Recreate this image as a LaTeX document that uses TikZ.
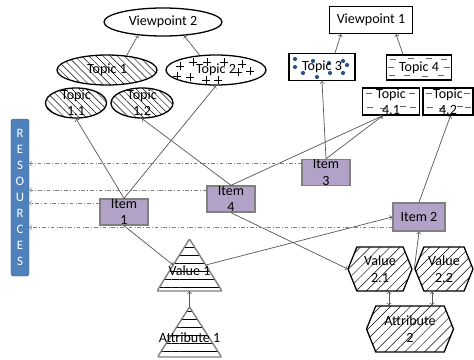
\documentclass[tikz,border=0pt]{standalone}
\usepackage{fontspec}
\setmainfont{Carlito}
\usetikzlibrary{shapes.geometric,shapes.symbols,patterns.meta,calc}

\definecolor{itemfill}{RGB}{179,162,199}
\definecolor{itemline}{RGB}{128,128,128}
\definecolor{resfill}{RGB}{79,129,189}
\definecolor{resline}{RGB}{56,93,138}
\definecolor{dotblue}{RGB}{46,84,140}
\definecolor{linkgray}{RGB}{85,85,85}

\tikzset{
  every node/.style={font=\fontsize{12}{14}\selectfont, align=center, inner sep=0pt},
  vpell/.style={ellipse, draw, line width=1.1pt, minimum width=3.54cm, minimum height=0.84cm},
  vpbox/.style={rectangle, draw, line width=1.1pt},
  topell/.style={ellipse, draw, line width=1.1pt, minimum height=0.9cm},
  topbox/.style={rectangle, draw, line width=1.1pt},
  hatch/.style={pattern={Lines[angle=-45,distance=4.3pt,line width=0.4pt]}},
  pluses/.style={path picture={
    \foreach \px/\py in {-36/-4,-23/-8,-9/-8,8/-8,-39/6,-26/7,-10/10,2/10,22/2,26/-6,34/1}
      \draw[line width=0.5pt] ([shift={(\px-4,\py)}]path picture bounding box.center) -- ++(8,0)
        ([shift={(\px,\py-4)}]path picture bounding box.center) -- ++(0,8);
  }},
  dots/.style={path picture={
    \foreach \px/\py in {-27/-8,-27/0,-19/6,-9/-6,-5/10,7/-4,8/6,21/-6,25/-2,21/6}
      \fill[dotblue] ([shift={(\px,\py)}]path picture bounding box.center) circle (1.8pt);
  }},
  dashmarks/.style={path picture={
    \foreach \px/\py in {#1}
      \draw[gray!80!black, line width=0.5pt] ([shift={(\px-3,\py)}]path picture bounding box.center) -- ++(6,0);
  }},
  item/.style={rectangle, draw=itemline, line width=1.2pt, fill=itemfill, minimum width=1.44cm, minimum height=0.78cm, inner ysep=-2pt},
  res/.style={rectangle, rounded corners=2pt, fill=resfill, draw=resline, text=white, minimum width=0.54cm, minimum height=4.71cm, font=\fontsize{11}{13.6}\selectfont},
  tri/.style={text height=20pt, text depth=2pt, path picture={
    \draw[gray, line width=1.2pt, pattern={Lines[angle=0,distance=6.8pt,line width=0.6pt]}]
      (path picture bounding box.north) -- (path picture bounding box.south east)
      -- (path picture bounding box.south west) -- cycle;
  }},
  hexa/.style={signal, signal to=west and east, signal pointer angle=136, draw, line width=1.1pt,
    pattern={Lines[angle=45,distance=6pt,line width=0.4pt]}},
  link/.style={->, draw=linkgray, line width=0.6pt},
  resarrow/.style={->, draw=gray, dash dot, line width=0.6pt},
}

\begin{document}
\begin{tikzpicture}[x=0.03cm, y=-0.03cm]
  \useasboundingbox (0,0) rectangle (474,359);

  % viewpoint 2 and its topics
  \node[vpell] (vp2) at (163,22) {Viewpoint 2};
  \node[topell, hatch, minimum width=3cm] (t1) at (107,70) {Topic 1};
  \node[topell, pluses, minimum width=3cm] (t2) at (216,70) {Topic 2};
  \node[topell, hatch, minimum width=1.83cm, inner ysep=-5pt] (t11) at (76,103) {Topic\\1.1};
  \node[topell, hatch, minimum width=1.86cm, inner ysep=-5pt] (t12) at (142,103) {Topic\\1.2};

  % viewpoint 1 and its topics
  \node[vpbox, minimum width=2.49cm, minimum height=0.81cm] (vp1) at (371,20) {Viewpoint 1};
  \node[topbox, dots, minimum width=1.98cm, minimum height=0.81cm] (t3) at (322,67) {Topic 3};
  \node[topbox, dashmarks={-26/-8,-8/-9,10/-9,25/-8,-27/8,-12/8,6/9,22/8,28/0,-28/0},
        minimum width=1.95cm, minimum height=0.75cm] (t4) at (419,67.5) {Topic 4};
  \node[topbox, dashmarks={-22/-8,21/-8,-21/6,-8/7,12/5,22/6},
        minimum width=1.71cm, minimum height=0.81cm, inner ysep=-1.5pt] (t41) at (391,101.5) {Topic\\4.1};
  \node[topbox, dashmarks={-19/-8,19/-8,-18/6,-6/7,12/5,20/6},
        minimum width=1.5cm, minimum height=0.81cm, inner ysep=-1.5pt] (t42) at (448,101.5) {Topic\\4.2};

  % resources
  \node[res] (res) at (20,197.5) {R\\E\\S\\O\\U\\R\\C\\E\\S};

  % items
  \node[item] (i1) at (124,212) {Item\\1};
  \node[item] (i4) at (231,199) {Item\\4};
  \node[item] (i3) at (326,172.5) {Item\\3};
  \node[item, minimum width=1.56cm, minimum height=0.84cm, inner ysep=0pt] (i2) at (419,217) {Item 2};

  % values and attributes
  \node[tri, minimum width=1.95cm, minimum height=1.56cm] (val1) at (189.5,265) {Value 1};
  \node[tri, minimum width=1.92cm, minimum height=1.5cm] (att1) at (189.5,332) {Attribute 1};
  \node[hexa, minimum width=1.92cm, minimum height=1.32cm] (v21) at (380,269) {Value\\2.1};
  \node[hexa, minimum width=1.74cm, minimum height=1.32cm] (v22) at (444,269) {Value\\2.2};
  \node[hexa, minimum width=2.61cm, minimum height=1.38cm] (att2) at (410,329) {Attribute\\2};

  % topics to viewpoints
  \draw[link] (t1.36) -- (vp2.208);
  \draw[link] (t2.138) -- (vp2.327);
  \draw[link] ($(t3.north)+(13,0)$) -- ($(vp1.south)+(-30,0)$);
  \draw[link] ($(t4.north)+(-16,0)$) -- ($(vp1.south)+(25,0)$);

  % items to topics
  \draw[link] (i1.north) -- (t11.south);
  \draw[link] (i1.north) -- (t2.south);
  \draw[link] (i4.north) -- (t12.south);
  \draw[link] (i4.north) -- (t41.240);
  \draw[link] (i3.north) -- (t41.240);
  \draw[link] (i3.north) -- (t3.south);
  \draw[link] (i2.north) -- (t42.280);

  % items and values
  \draw[link] (i1.south) -- ($(val1.north)!0.5!(val1.south west)$);
  \draw[link] ($(val1.north)!0.5!(val1.south east)$) -- (i2.west);
  \draw[link] (i4.south) -- (v21.west);
  \draw[link] (v22.west) -- (i2.south);
  \draw[link] (att1.north) -- (val1.south);
  \draw[link, <->] ($(v21.south)+(9,0)$) coordinate (a21) -- (a21 |- att2.north);
  \draw[link, <->] ($(v22.south)+(-12,0)$) coordinate (a22) -- (a22 |- att2.north);

  % items to resources
  \draw[resarrow] (i3.160) -- (i3.160 -| res.east);
  \draw[resarrow] (i4.160) -- (i4.160 -| res.east);
  \draw[resarrow] (i1.160) -- (i1.160 -| res.east);
  \draw[resarrow] (i2.201) -- (i2.201 -| res.east);
\end{tikzpicture}
\end{document}
